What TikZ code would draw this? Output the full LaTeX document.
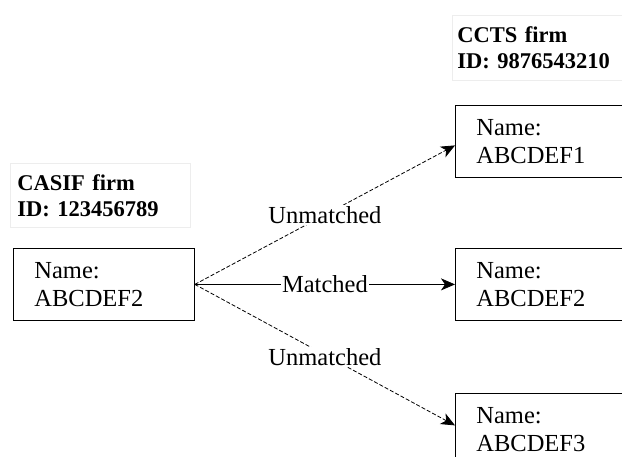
\documentclass[tikz,border=0pt]{standalone}
\usepackage{fontspec}
\setmainfont{Liberation Serif}
\usetikzlibrary{arrows.meta}
\begin{document}
\begin{tikzpicture}[x=1pt,y=-1pt,
  namebox/.style={draw=black, line width=0.8pt, minimum width=181pt, minimum height=72pt,
    inner xsep=21pt, inner ysep=0pt, text width=139pt, align=left, anchor=north west,
    font=\fontsize{24.5}{28.5}\selectfont},
  titlebox/.style={draw=black!7, line width=0.8pt, minimum width=180pt, minimum height=64pt,
    inner ysep=0pt, align=left, anchor=north west,
    font=\fontsize{22.5}{26}\selectfont\bfseries},
  edgelabel/.style={fill=white, inner sep=1.5pt, font=\fontsize{24.5}{28}\selectfont},
  link/.style={line width=0.8pt, -{Stealth[length=14pt,width=12pt,inset=4pt]}},
  dashlink/.style={link, dash pattern=on 4pt off 2pt}]
\useasboundingbox (0,0) rectangle (622,457);
\clip (0,0) rectangle (622,457);

\node[titlebox, inner xsep=7pt, text width=166pt] (casif) at (10,163) {CASIF firm\\ID: 123456789};
\node[titlebox, inner xsep=5pt, text width=170pt, minimum height=65pt] (ccts) at (452,15) {CCTS firm\\ID: 9876543210};

\node[namebox] (L) at (13,248) {Name:\\ABCDEF2};
\node[namebox] (R1) at (455,105) {Name:\\ABCDEF1};
\node[namebox] (R2) at (455,248) {Name:\\ABCDEF2};
\node[namebox] (R3) at (455,393) {Name:\\ABCDEF3};

\draw[dashlink] (L.east) -- node[edgelabel] {Unmatched} ([yshift=-4pt]R1.west);
\draw[link] (L.east) -- node[edgelabel] {Matched} (R2.west);
\draw[dashlink] (L.east) -- node[edgelabel, yshift=-2pt] {Unmatched} ([yshift=4pt]R3.west);
\end{tikzpicture}
\end{document}
